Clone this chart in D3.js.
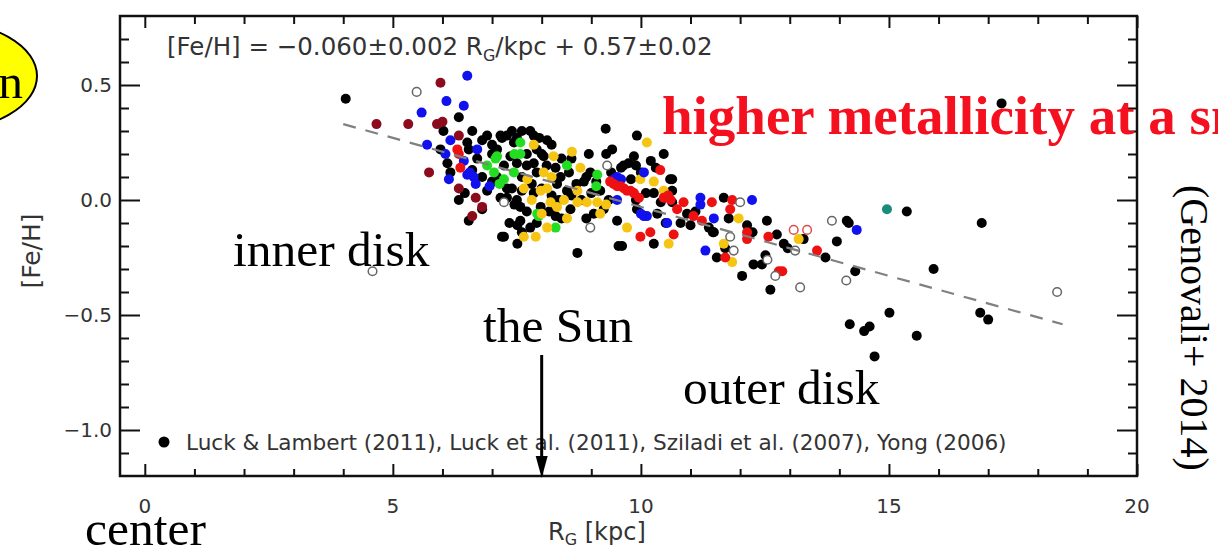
<!DOCTYPE html>
<html>
<head>
<meta charset="utf-8">
<script src="https://cdn.jsdelivr.net/npm/d3@7"></script>
<style>
  html, body { margin: 0; padding: 0; background: #fff; }
  svg { display: block; }
</style>
</head>
<body>
<svg id="chart" width="1218" height="549"></svg>
<script>
// Radial metallicity gradient of Galactic Cepheids: [Fe/H] against galactocentric radius R_G.

const xTicks = [0, 5, 10, 15, 20];
const yTicks = [0.5, 0.0, -0.5, -1.0];
const yTickLabels = ["0.5", "0.0", "\u22120.5", "\u22121.0"];

// Linear fit [Fe/H] = slope * R_G + intercept, drawn over the sampled radii
const fitSlope = -0.060;
const fitIntercept = 0.57;
const fitRange = [4.0, 18.5];

// Cepheids, [R_G (kpc), [Fe/H]] per sample
const blackStars = [
  [4.05,0.44],[17.27,0.42],[15.36,-0.05],[16.87,-0.10],[14.19,-0.10],[13.95,-0.18],[14.32,-0.31],
  [15.90,-0.30],[15.01,-0.49],[14.21,-0.54],[14.50,-0.57],[14.61,-0.55],[15.56,-0.59],[14.71,-0.68],
  [16.84,-0.49],[17.00,-0.52],[14.15,-0.09],[13.72,-0.25],[13.28,-0.17],[12.88,-0.19],[12.96,-0.21],
  [12.61,-0.39],[12.04,-0.33],[12.27,-0.28],[12.44,-0.28],[12.51,-0.24],[12.74,-0.15],[12.54,-0.09],
  [12.14,-0.11],[12.25,-0.14],[11.77,-0.08],[11.67,0.01],[11.70,-0.21],[11.53,-0.25],[11.37,-0.12],
  [11.47,-0.14],[10.93,-0.06],[10.63,0.09],[10.63,0.04],[10.63,-0.01],[10.59,0.09],[10.46,0.20],
  [10.26,0.03],[10.33,-0.06],[10.26,-0.19],[9.92,0.28],[9.86,0.19],[9.90,0.15],[9.65,0.15],
  [9.75,0.16],[9.92,-0.04],[9.52,-0.09],[9.62,-0.20],[9.29,0.31],[9.42,0.22],[9.35,0.00],
  [9.25,-0.04],[9.18,0.04],[8.95,0.20],[8.98,0.12],[8.85,0.08],[8.58,-0.04],[8.51,0.04],
  [8.38,0.10],[8.28,0.14],[8.31,0.07],[8.28,-0.07],[8.72,-0.23],[8.11,0.26],[8.04,0.19],
  [7.84,0.16],[7.84,0.28],[7.77,0.30],[7.84,0.03],[7.98,-0.03],[7.57,-0.03],[7.57,-0.09],
  [7.77,-0.12],[7.51,-0.11],[7.51,-0.19],[7.24,-0.16],[7.30,0.01],[7.30,0.28],[7.44,0.25],
  [7.37,0.19],[7.24,0.15],[7.17,0.28],[7.17,0.01],[6.80,0.26],[6.60,0.30],[6.50,0.25],
  [6.53,0.22],[6.33,0.36],[6.02,0.30],[5.96,0.22],[6.16,0.12],[6.80,0.10],[6.33,0.00],
  [6.53,-0.09],[6.80,-0.04],[7.00,0.20],[7.10,0.22],[7.60,0.10],[7.70,0.20],[7.90,0.22],
  [8.00,0.05],[8.20,0.02],[7.40,0.05],[7.50,0.00],[8.60,0.18],[8.40,-0.08],[9.10,0.08],
  [9.05,-0.06],[8.80,0.00],[7.00,0.24],[7.20,0.27],[7.40,0.30],[7.50,0.27],[7.60,0.30],
  [7.95,0.27],[8.20,0.24],[7.10,0.10],[7.30,0.05],[7.50,0.16],[7.70,0.15],[7.90,0.12],
  [8.10,0.15],[8.00,0.20],[7.80,0.07],[7.60,0.04],[7.45,-0.02],[7.70,-0.05],[7.35,-0.10],
  [7.90,-0.10],[7.60,-0.14],[8.40,0.18],[8.55,0.12],[8.70,0.07],[8.90,0.10],[9.00,0.03],
  [8.60,0.02],[8.35,0.00],[8.15,-0.05],[8.90,-0.08],[9.40,0.12],[9.30,0.20],[9.60,0.14],
  [9.80,0.09],[10.00,0.12],[10.20,0.17],[10.30,0.14],[10.10,0.03],[9.90,0.00],[10.40,-0.01],
  [10.50,-0.10],[10.80,-0.10],[11.00,-0.11],[11.10,-0.05],[6.90,0.28],[6.70,0.18],[6.60,0.13],
  [6.90,0.04],[7.00,0.08],[6.45,0.03],[6.10,0.16],[7.20,-0.16],[9.55,-0.20],[11.45,-0.14]
];

const blueStars = [
  [6.50,0.54],[6.08,0.43],[6.43,0.41],[5.58,0.38],[5.69,0.24],[6.06,0.20],[6.16,0.26],
  [6.70,0.22],[6.43,0.17],[6.13,0.09],[6.50,0.11],[6.63,0.10],[6.67,0.07],[6.95,0.06],
  [6.55,0.12],[9.52,0.10],[9.52,0.00],[10.06,0.12],[10.06,-0.07],[10.12,-0.07],[10.00,-0.06],
  [10.53,-0.10],[11.20,0.01],[11.20,-0.02],[11.47,-0.08],[11.30,-0.22],[12.24,0.00],[14.35,-0.13],
  [9.60,0.09],[9.45,0.09]
];

const maroonStars = [
  [5.96,0.51],[4.67,0.33],[5.31,0.33],[5.89,0.33],[6.00,0.34],[6.33,0.28],[5.73,0.12],
  [6.33,0.05],[6.67,0.01],[6.80,-0.03],[6.60,-0.07]
];

const redStars = [
  [6.30,0.22],[6.36,0.14],[6.33,0.20],[9.38,0.08],[9.45,0.07],[9.52,0.06],[9.59,0.06],
  [9.66,0.05],[9.72,0.04],[9.79,0.04],[9.86,0.03],[9.96,0.01],[10.39,0.13],[10.46,0.01],
  [10.60,0.00],[10.66,-0.15],[10.19,-0.14],[9.99,-0.16],[10.86,-0.01],[10.73,-0.04],[11.06,-0.07],
  [11.23,-0.09],[11.43,-0.01],[11.84,0.00],[11.80,-0.04],[12.14,-0.14],[12.14,-0.17],[11.70,-0.25],
  [12.57,-0.16],[12.78,-0.31],[12.85,-0.31],[13.55,-0.22],[10.55,0.02]
];

const greenStars = [
  [6.90,0.15],[7.07,0.18],[7.04,0.12],[7.24,0.09],[7.57,0.25],[7.57,0.20],[7.44,0.12],
  [7.91,-0.06],[8.28,-0.12],[7.94,-0.07],[8.51,0.15],[9.12,0.11],[9.10,0.06],[7.10,0.19],
  [7.45,0.20],[7.15,0.07]
];

const yellowStars = [
  [7.84,0.24],[8.24,0.19],[8.04,0.12],[7.71,0.09],[7.64,0.05],[7.98,0.04],[8.18,-0.01],
  [8.31,-0.03],[8.11,-0.12],[8.51,-0.08],[7.64,-0.16],[7.88,-0.16],[8.78,0.14],[8.61,0.21],
  [8.72,0.04],[8.11,0.05],[8.45,0.00],[8.72,-0.01],[8.91,-0.01],[9.12,-0.01],[9.18,-0.06],
  [9.30,-0.02],[10.12,0.25],[9.99,0.09],[10.26,0.08],[10.46,0.04],[10.56,-0.19],[9.72,-0.12],
  [11.97,-0.08],[11.67,-0.19],[11.84,-0.27],[13.18,-0.17],[8.20,0.10],[7.80,0.00],[8.00,-0.06]
];

const tealStars = [[14.96,-0.04]];

const openStars = [
  [5.48,0.47],[4.59,-0.31],[7.24,-0.01],[8.98,-0.12],[9.32,0.15],[12.00,-0.01],[11.80,-0.16],
  [11.87,-0.22],[13.11,-0.22],[13.21,-0.38],[13.85,-0.09],[14.14,-0.35],[18.39,-0.40],[12.71,-0.33],
  [12.55,-0.26]
];

const openRedStars = [[13.08,-0.13],[13.35,-0.13]];

const legendText = "Luck & Lambert (2011), Luck et al. (2011), Sziladi et al. (2007), Yong (2006)";

// ---- layout ----
const svg = d3.select("#chart");
const plot = { left: 120, right: 1137, top: 16, bottom: 476 };

const x = d3.scaleLinear().domain([-0.5, 20]).range([plot.left, plot.right]);
const y = d3.scaleLinear().domain([-1.2, 0.8]).range([plot.bottom, plot.top]);

const sans = "'DejaVu Sans', sans-serif";
const serif = "'Liberation Serif', 'Times New Roman', serif";
const axisInk = "#111";
const labelInk = "#333";

// ---- axes: inward ticks on all four sides ----
const xMinor = d3.range(0, 20, 1).filter(v => v % 5 !== 0);
const yMinor = d3.range(-11, 8).map(v => v / 10).filter(v => Math.abs(Math.round(v * 10)) % 5 !== 0);

const bottomAxis = d3.axisBottom(x).tickValues(xTicks).tickSize(-12).tickFormat(() => "");
const bottomMinor = d3.axisBottom(x).tickValues(xMinor).tickSize(-7).tickFormat(() => "");
const topAxis = d3.axisTop(x).tickValues(xTicks).tickSize(-12).tickFormat(() => "");
const topMinor = d3.axisTop(x).tickValues(xMinor).tickSize(-8).tickFormat(() => "");
const leftAxis = d3.axisLeft(y).tickValues(yTicks).tickSize(-20).tickFormat(() => "");
const leftMinor = d3.axisLeft(y).tickValues(yMinor).tickSize(-9).tickFormat(() => "");
const rightAxis = d3.axisRight(y).tickValues(yTicks).tickSize(-20).tickFormat(() => "");
const rightMinor = d3.axisRight(y).tickValues(yMinor).tickSize(-9).tickFormat(() => "");

function styleAxis(g) {
  g.select(".domain").remove();
  g.selectAll(".tick line").attr("stroke", axisInk).attr("stroke-width", 2);
}

const axes = svg.append("g");
[[bottomAxis, plot.bottom], [bottomMinor, plot.bottom], [topAxis, plot.top], [topMinor, plot.top]]
  .forEach(([ax, ty]) => axes.append("g").attr("transform", `translate(0,${ty})`).call(ax).call(styleAxis));
[[leftAxis, plot.left], [leftMinor, plot.left], [rightAxis, plot.right], [rightMinor, plot.right]]
  .forEach(([ax, tx]) => axes.append("g").attr("transform", `translate(${tx},0)`).call(ax).call(styleAxis));

axes.append("rect")
  .attr("x", plot.left).attr("y", plot.top)
  .attr("width", plot.right - plot.left).attr("height", plot.bottom - plot.top)
  .attr("fill", "none").attr("stroke", axisInk).attr("stroke-width", 2.5);

// tick labels
svg.append("g").selectAll("text").data(xTicks).join("text")
  .attr("x", d => x(d)).attr("y", 513)
  .attr("text-anchor", "middle")
  .attr("font-family", sans).attr("font-size", 20).attr("fill", labelInk)
  .text(d => d);

svg.append("g").selectAll("text").data(yTicks).join("text")
  .attr("x", 112).attr("y", d => y(d) + 7)
  .attr("text-anchor", "end")
  .attr("font-family", sans).attr("font-size", 20).attr("fill", labelInk)
  .text((d, i) => yTickLabels[i]);

// axis titles
const xTitle = svg.append("text")
  .attr("x", 548).attr("y", 540)
  .attr("font-family", sans).attr("font-size", 24).attr("fill", labelInk);
xTitle.append("tspan").text("R");
xTitle.append("tspan").attr("font-size", 16).attr("dy", 5).text("G");
xTitle.append("tspan").attr("dy", -5).text(" [kpc]");

svg.append("text")
  .attr("transform", "translate(40,251) rotate(-90)")
  .attr("text-anchor", "middle")
  .attr("font-family", sans).attr("font-size", 25).attr("fill", labelInk)
  .text("[Fe/H]");

// fit relation
const eq = svg.append("text")
  .attr("x", 167).attr("y", 55)
  .attr("font-family", sans).attr("font-size", 24.5).attr("fill", labelInk);
eq.append("tspan").text("[Fe/H] = \u22120.060\u00b10.002 R");
eq.append("tspan").attr("font-size", 16).attr("dy", 6).text("G");
eq.append("tspan").attr("dy", -6).text("/kpc + 0.57\u00b10.02");

// ---- points ----
const marks = svg.append("g");
function dots(data, fill, stroke, r) {
  marks.append("g").selectAll("circle").data(data).join("circle")
    .attr("cx", d => x(d[0])).attr("cy", d => y(d[1])).attr("r", r)
    .attr("fill", fill).attr("stroke", stroke).attr("stroke-width", stroke === "none" ? 0 : 1.5);
}
dots(blackStars, "#000", "none", 5);
dots(greenStars, "#22dd22", "none", 5);
dots(yellowStars, "#f6c514", "none", 5);
dots(blueStars, "#1111ee", "none", 5);
dots(maroonStars, "#8c0c1e", "none", 5);
dots(redStars, "#ee1111", "none", 5);
dots(openStars, "#fff", "#666", 4.3);
dots(openRedStars, "#fff", "#d65050", 4.3);
dots(tealStars, "#1a8c7c", "none", 5);

// fit line
const fitLine = d3.line().x(d => x(d)).y(d => y(fitSlope * d + fitIntercept));
svg.append("path")
  .attr("d", fitLine(fitRange))
  .attr("fill", "none").attr("stroke", "#808080").attr("stroke-width", 2.2)
  .attr("stroke-dasharray", "13,10");

// legend
svg.append("circle").attr("cx", 164).attr("cy", 442).attr("r", 5.5).attr("fill", "#000");
svg.append("text")
  .attr("x", 186).attr("y", 450)
  .attr("font-family", sans).attr("font-size", 21.6).attr("fill", labelInk)
  .text(legendText);

// ---- annotations ----
const solarRadius = 8.0;
svg.append("line")
  .attr("x1", x(solarRadius)).attr("x2", x(solarRadius))
  .attr("y1", 355).attr("y2", 460)
  .attr("stroke", "#000").attr("stroke-width", 3);
svg.append("path")
  .attr("d", `M${x(solarRadius) - 6},456 L${x(solarRadius) + 6},456 L${x(solarRadius)},478 Z`)
  .attr("fill", "#000");

function note(txt, px, py, opts = {}) {
  return svg.append("text")
    .attr("x", px).attr("y", py)
    .attr("font-family", serif)
    .attr("font-size", opts.size || 49.5)
    .attr("font-weight", opts.weight || "normal")
    .attr("fill", opts.fill || "#000")
    .attr("text-anchor", opts.anchor || "start")
    .text(txt);
}
note("inner disk", 233, 266);
note("the Sun", 483, 342);
note("outer disk", 683, 404);
note("center", 85, 545);
note("higher metallicity at a smaller radius", 662, 134, { size: 55, weight: "bold", fill: "#f51020" });

svg.append("text")
  .attr("transform", "translate(1181,185) rotate(90)")
  .attr("font-family", serif).attr("font-size", 40).attr("fill", "#000")
  .text("(Genovali+ 2014)");

// callout bubble at the upper left
svg.append("ellipse")
  .attr("cx", -60).attr("cy", 76).attr("rx", 97).attr("ry", 55)
  .attr("fill", "#ffff00").attr("stroke", "#000").attr("stroke-width", 2);
note("n", 23, 98, { anchor: "end" });
</script>
</body>
</html>
